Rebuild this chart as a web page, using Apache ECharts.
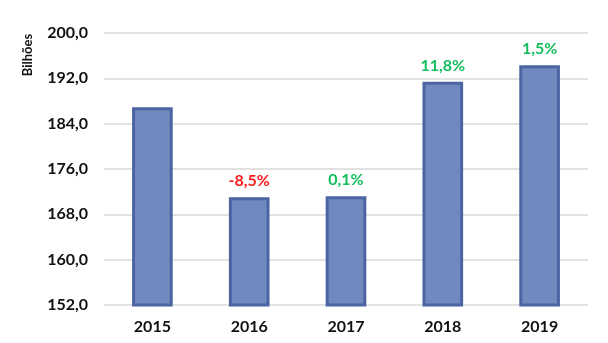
<!DOCTYPE html>
<html>
<head>
<meta charset="utf-8">
<script src="https://cdn.jsdelivr.net/npm/echarts@6/dist/echarts.min.js"></script>
<style>
  html, body { margin: 0; padding: 0; background: #ffffff; }
  #chart { width: 608px; height: 343px; }
</style>
</head>
<body>
<div id="chart"></div>
<script>
// Anos e valores (em bilhões)
var years = ['2015', '2016', '2017', '2018', '2019'];
var values = [186.9, 171.0, 171.2, 191.4, 194.3];
// Variação anual mostrada acima de cada barra
var changes = ['', '-8,5%', '0,1%', '11,8%', '1,5%'];
var changeColors = ['#000000', '#ff1a1a', '#14bd5e', '#14bd5e', '#14bd5e'];

var FONT = 'Lato, "Open Sans", sans-serif';

var chart = echarts.init(document.getElementById('chart'), null, { renderer: 'canvas' });

var data = values.map(function (v, i) {
  return {
    value: v,
    label: {
      show: changes[i] !== '',
      formatter: changes[i],
      color: changeColors[i]
    }
  };
});

chart.setOption({
  animation: false,
  backgroundColor: '#ffffff',
  grid: { left: 104, right: 20, top: 33, bottom: 38 },
  graphic: [{
    type: 'text',
    x: 28,
    y: 55,
    rotation: Math.PI / 2,
    style: {
      text: 'Bilhões',
      fill: '#111111',
      font: 'bold 13px ' + FONT,
      textAlign: 'center',
      textVerticalAlign: 'middle'
    }
  }],
  xAxis: {
    type: 'category',
    data: years,
    axisLine: { show: false },
    axisTick: { show: false },
    axisLabel: { color: '#111111', fontFamily: FONT, fontWeight: 'bold', fontSize: 16, margin: 14 }
  },
  yAxis: {
    type: 'value',
    min: 152,
    max: 200,
    interval: 8,
    axisLine: { show: false },
    axisTick: { show: false },
    splitLine: { lineStyle: { color: '#d9d9d9', width: 1.5 } },
    axisLabel: {
      color: '#111111', fontFamily: FONT, fontWeight: 'bold', fontSize: 16, margin: 16,
      formatter: function (v) { return v.toFixed(1).replace('.', ','); }
    }
  },
  series: [{
    type: 'bar',
    data: data,
    barWidth: '42%',
    itemStyle: { color: '#7189bf', borderColor: '#4b65a2', borderWidth: 3 },
    label: {
      position: 'top',
      distance: 8,
      fontFamily: FONT,
      fontWeight: 'bold',
      fontSize: 16
    }
  }]
});
</script>
</body>
</html>
